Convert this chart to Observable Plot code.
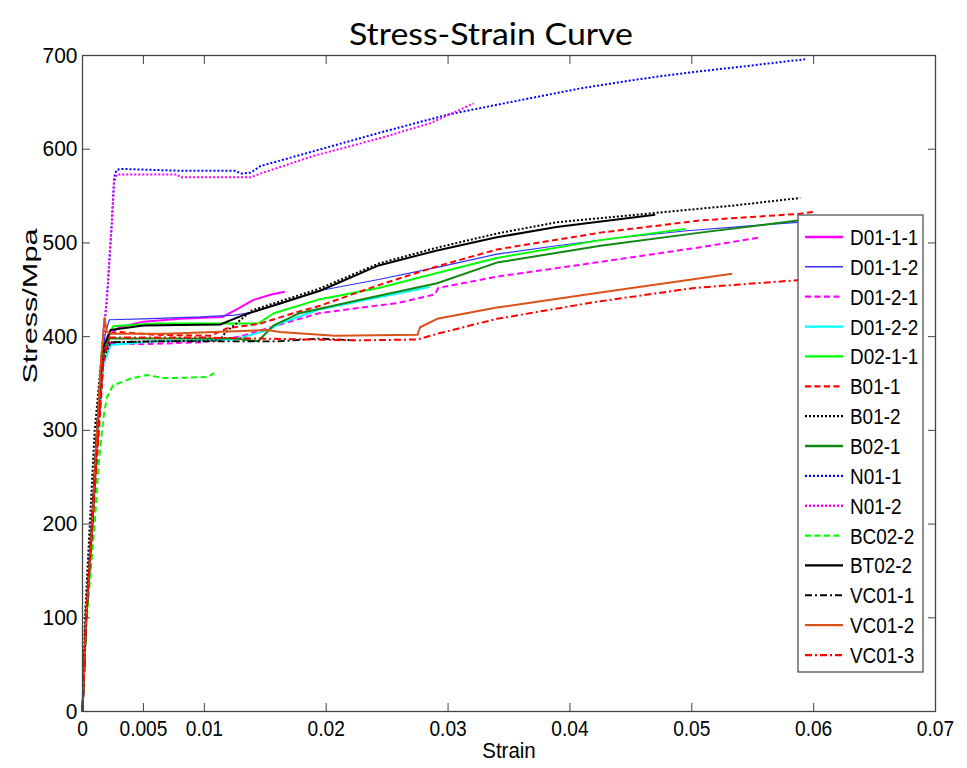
<!DOCTYPE html>
<html><head><meta charset="utf-8">
<script src="https://cdn.jsdelivr.net/npm/d3@7"></script>
<script src="https://cdn.jsdelivr.net/npm/@observablehq/plot@0.6"></script>
<style>body{margin:0;background:#fff;}</style>
</head><body><div id="chart"></div>
<script>
// ---- data (strain, stress MPa) ----
const xTicks = [0, 0.005, 0.01, 0.02, 0.03, 0.04, 0.05, 0.06, 0.07];
const xTickLabels = ["0", "0.005", "0.01", "0.02", "0.03", "0.04", "0.05", "0.06", "0.07"];
const yTicks = [0, 100, 200, 300, 400, 500, 600, 700];
const seriesNames = ["D01-1-1","D01-1-2","D01-2-1","D01-2-2","D02-1-1","B01-1","B01-2","B02-1","N01-1","N01-2","BC02-2","BT02-2","VC01-1","VC01-2","VC01-3"];

const D01_1_1 = [[0,0],[0.0003,100],[0.00075,200],[0.0012,300],[0.0016,380],[0.0021,401],[0.003,410],[0.005,416],[0.008,419],[0.0115,421],[0.0125,428],[0.014,439],[0.0155,445],[0.0166,448]];
const D01_1_2 = [[0,0],[0.0003,100],[0.00075,200],[0.0012,300],[0.0016,380],[0.0019,405],[0.0022,418],[0.005,419],[0.0097,421],[0.0125,423],[0.0139,426],[0.0162,435],[0.0194,449],[0.0243,461],[0.0291,474],[0.034,488],[0.0389,497],[0.0437,505],[0.0496,513],[0.0545,518],[0.0587,522]];
const D01_2_1 = [[0,0],[0.0003,100],[0.0008,200],[0.0012,300],[0.0016,370],[0.0022,393],[0.005,392],[0.0097,394],[0.0129,400],[0.0162,413],[0.0194,425],[0.0259,436],[0.0289,445],[0.0292,452],[0.034,464],[0.0421,479],[0.05,494],[0.0557,506]];
const D01_2_2 = [[0,0],[0.0003,100],[0.0008,200],[0.0013,300],[0.0017,370],[0.0023,391],[0.006,395],[0.0125,397],[0.0152,407],[0.0162,414],[0.0194,429],[0.0243,442],[0.0285,453]];
const D02_1_1 = [[0,0],[0.0003,100],[0.00078,200],[0.0012,300],[0.0016,385],[0.0025,411],[0.006,414],[0.0144,414],[0.0157,425],[0.0195,440],[0.0243,452],[0.0291,468],[0.034,484],[0.0425,503],[0.0495,515]];
const B01_1 = [[0,0],[0.0003,95],[0.0008,190],[0.0013,290],[0.0017,370],[0.0022,403],[0.003,405],[0.006,402],[0.0105,401],[0.0119,409],[0.0146,414],[0.0173,425],[0.0195,433],[0.0243,455],[0.0291,475],[0.034,493],[0.0425,511],[0.0507,524],[0.0587,531],[0.06,533]];
const B01_2 = [[0,0],[0.0002,100],[0.0006,200],[0.001,300],[0.0015,370],[0.0023,394],[0.006,395],[0.0113,396],[0.0117,404],[0.0139,428],[0.0146,431],[0.0194,451],[0.0243,478],[0.0291,495],[0.034,510],[0.0389,522],[0.047,532],[0.0535,540],[0.0589,548]];
const B02_1 = [[0,0],[0.0003,100],[0.0008,200],[0.0012,300],[0.0016,375],[0.0022,398],[0.008,398],[0.0125,398],[0.0144,395],[0.0157,412],[0.0178,425],[0.0227,439],[0.0291,457],[0.034,479],[0.0425,497],[0.0507,511],[0.0587,524]];
const N01_1 = [[0,0],[0.0003,100],[0.0008,200],[0.0012,300],[0.0017,400],[0.002,440],[0.0024,520],[0.0026,570],[0.0028,578],[0.0032,579],[0.008,577],[0.0125,577],[0.013,574],[0.0138,575],[0.0146,582],[0.019,598],[0.0245,618],[0.03,637],[0.0354,651],[0.0409,665],[0.0458,675],[0.0499,682],[0.054,688],[0.0593,696]];
const N01_2 = [[0,0],[0.0003,100],[0.0008,200],[0.0012,300],[0.0017,400],[0.002,440],[0.0024,520],[0.0026,565],[0.0028,573],[0.0078,573],[0.008,570],[0.0138,570],[0.0146,574],[0.019,593],[0.0245,612],[0.0286,628],[0.0321,649]];
const BC02_2 = [[0,0],[0.0003,90],[0.0008,170],[0.001,200],[0.0013,260],[0.0017,312],[0.002,335],[0.0025,348],[0.0039,355],[0.0053,359],[0.0066,356],[0.008,356],[0.0103,357],[0.0108,361]];
const BT02_2 = [[0,0],[0.0003,100],[0.0008,200],[0.0012,300],[0.0016,385],[0.0023,407],[0.005,412],[0.0113,413],[0.0132,423],[0.0139,426],[0.0195,449],[0.0243,476],[0.0291,492],[0.034,506],[0.0389,517],[0.047,530]];
const VC01_1 = [[0,0],[0.0003,100],[0.0008,200],[0.0012,300],[0.0016,380],[0.0022,394],[0.006,395],[0.012,395],[0.016,395],[0.0195,398],[0.0223,396]];
const VC01_2 = [[0,0],[0.0003,100],[0.0008,200],[0.0012,300],[0.0015,370],[0.0018,420],[0.002,405],[0.0025,403],[0.0068,403],[0.0152,407],[0.0162,405],[0.0207,401],[0.0275,402],[0.0277,410],[0.0291,419],[0.034,431],[0.0425,447],[0.0533,467]];
const VC01_3 = [[0,0],[0.0003,100],[0.0008,200],[0.0013,300],[0.0017,375],[0.0022,399],[0.01,399],[0.0142,398],[0.0227,396],[0.0275,397],[0.0291,403],[0.034,419],[0.0421,437],[0.0502,452],[0.0595,461]];

const seriesData = [D01_1_1, D01_1_2, D01_2_1, D01_2_2, D02_1_1, B01_1, B01_2, B02_1, N01_1, N01_2, BC02_2, BT02_2, VC01_1, VC01_2, VC01_3];

// ---- styles ----
const seriesColors = ["#ff00ff","#3030ff","#ff00ff","#00ffff","#00ff00","#ff0000","#000000","#118811","#0000ff","#ff00ff","#00ff00","#000000","#000000","#d95319","#ff0000"];
const DASH = "6,3.5", DOT = "2,2", DASHDOT = "7,3,2,3";
const seriesDash = [null,null,DASH,null,null,DASH,DOT,null,DOT,DOT,DASH,null,DASHDOT,null,DASHDOT];
const seriesWidth = [2,1.2,2,2,2,2,2,2,2,2,2,2,1.8,2,2];

const W = 967, H = 768;
const font = "'Liberation Sans', Arial, sans-serif";
const axisColor = "#444";

const marks = [];
seriesData.forEach((pts, i) => {
  marks.push(Plot.line(pts, {
    x: d => d[0], y: d => d[1],
    stroke: seriesColors[i], strokeWidth: seriesWidth[i],
    strokeDasharray: seriesDash[i] || undefined,
    strokeLinecap: "butt", strokeLinejoin: "round"
  }));
});

marks.push(
  Plot.axisX(xTicks, {anchor: "bottom", tickSize: 0, tickPadding: 9, tickFormat: d => xTickLabels[xTicks.indexOf(d)], label: null}),
  Plot.axisX(xTicks, {anchor: "bottom", tickSize: 8, dy: -8, tickFormat: () => "", label: null, stroke: axisColor}),
  Plot.axisX(xTicks, {anchor: "top", tickSize: 8, dy: 8, tickFormat: () => "", label: null, stroke: axisColor}),
  Plot.axisY(yTicks, {anchor: "left", tickSize: 0, tickPadding: 5, label: null}),
  Plot.axisY(yTicks, {anchor: "left", tickSize: 8, dx: 8, tickFormat: () => "", label: null, stroke: axisColor}),
  Plot.axisY(yTicks, {anchor: "right", tickSize: 8, dx: -8, tickFormat: () => "", label: null, stroke: axisColor}),
  Plot.frame({stroke: axisColor, strokeWidth: 1.3}),
  Plot.text(["Strain"], {frameAnchor: "bottom", dy: 46, fill: "black"}),
  Plot.text(["Stress/Mpa"], {frameAnchor: "left", dx: -52, rotate: -90, fill: "black"}),
  Plot.text(["Stress-Strain Curve"], {frameAnchor: "top", dx: -18, dy: -33, fontFamily: "Lato", fill: "black"})
);

const plot = Plot.plot({
  width: W, height: H,
  marginTop: 55, marginBottom: 57, marginLeft: 82, marginRight: 32,
  x: {domain: [0, 0.07]},
  y: {domain: [0, 700]},
  style: {fontFamily: font, fontSize: "19px", background: "white", color: "black", overflow: "visible"},
  marks
});

const svg = d3.select(plot);

// ---- legend (inside the axes, top-right) ----
const lg = svg.append("g").attr("font-family", font).attr("text-anchor", "start");
const lx = 798, ly = 215, lw = 125, lh = 457, step = 29.86, first = 237;
lg.append("rect").attr("x", lx).attr("y", ly).attr("width", lw).attr("height", lh)
  .attr("fill", "white").attr("stroke", axisColor).attr("stroke-width", 1.2);
seriesNames.forEach((name, i) => {
  const y = first + i * step;
  lg.append("line").attr("x1", lx + 7).attr("x2", lx + 45).attr("y1", y).attr("y2", y)
    .attr("stroke", seriesColors[i]).attr("stroke-width", seriesWidth[i] + 0.3)
    .attr("stroke-dasharray", seriesDash[i]);
  lg.append("text").attr("class", "lgtext").attr("x", lx + 52).attr("y", y).attr("dy", "0.36em")
    .attr("text-anchor", "start").attr("fill", "black").text(name);
});

document.getElementById("chart").appendChild(plot);

// tall, narrow glyphs as in the reference
function sizeText(sel, size, factor) {
  sel.style("font-size", size + "px");
  sel.each(function () {
    const w = this.getComputedTextLength();
    if (w > 0 && factor !== 1) d3.select(this).attr("textLength", w * factor).attr("lengthAdjust", "spacingAndGlyphs");
  });
}
const byText = t => svg.selectAll("text").filter(function(){ return this.textContent === t; });
sizeText(svg.selectAll('g[aria-label="x-axis tick label"] text'), 22, 0.87);
sizeText(svg.selectAll('g[aria-label="y-axis tick label"] text'), 22, 0.95);
sizeText(svg.selectAll("text.lgtext"), 22, 0.86);
sizeText(byText("Strain"), 22, 0.93);
byText("Stress/Mpa").style("font-size", "21px").attr("textLength", 155).attr("lengthAdjust", "spacingAndGlyphs");
byText("Stress-Strain Curve").style("font-size", "31px").attr("textLength", 284).attr("lengthAdjust", "spacingAndGlyphs");
</script>
</body></html>
